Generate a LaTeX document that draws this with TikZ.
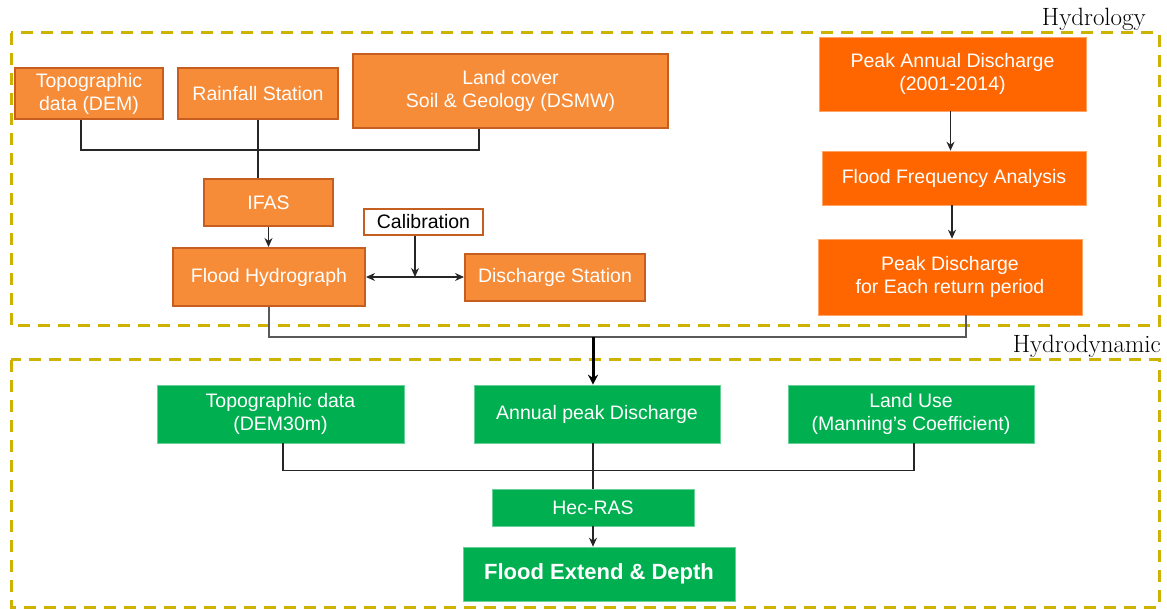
\documentclass[tikz,border=0pt]{standalone}
\usepackage{fontspec}
\newfontfamily\arialf{Liberation Sans}
\usetikzlibrary{arrows.meta}
\definecolor{lorange}{HTML}{F68B38}
\definecolor{lborder}{HTML}{C55E1E}
\definecolor{dorange}{HTML}{FF6600}
\definecolor{gfill}{HTML}{00B050}
\definecolor{dashc}{HTML}{CDB300}
\definecolor{conn}{HTML}{262626}
\definecolor{coll}{HTML}{595959}
\tikzset{
  boxbase/.style={rectangle, inner sep=0pt, align=center, text=white,
    font=\arialf\fontsize{19.5}{23}\selectfont},
  lbox/.style={boxbase, fill=lorange, draw=lborder, line width=2pt},
  calbox/.style={boxbase, fill=white, draw=lborder, line width=2pt, text=black},
  dbox/.style={boxbase, fill=dorange, draw=dorange!60, line width=0.6pt},
  gbox/.style={boxbase, fill=gfill, draw=gfill!60, line width=0.6pt},
  region/.style={draw=dashc, line width=3pt, dash pattern=on 12pt off 8pt},
  regionlabel/.style={anchor=base east, inner sep=0pt, font=\fontsize{25}{28}\selectfont},
  link/.style={draw=conn, line width=1.3pt},
  arr/.style={link, -{Stealth[length=9pt,width=8pt]}},
  darr/.style={link, {Stealth[length=9pt,width=8pt]}-{Stealth[length=9pt,width=8pt]}},
  collector/.style={draw=coll, line width=2pt},
  thickarr/.style={draw=black, line width=3pt, -{Stealth[length=10pt,width=10pt]}}
}
\begin{document}
\begin{tikzpicture}[x=1pt,y=-1pt]
\useasboundingbox (0,0) rectangle (1167,609);
% regions
\draw[region] (11,33) rectangle (1159,326);
\draw[region] (11,360) rectangle (1159,607);
\node[regionlabel] (lhyd) at (1146,26) {Hydrology};
\node[regionlabel] (lhdyn) at (1161,353) {Hydrodynamic};

% hydrology, left part
\node[lbox, minimum width=148pt, minimum height=51pt] (topo) at (89,93.5) {Topographic\\data (DEM)};
\node[lbox, minimum width=160pt, minimum height=51pt] (rain) at (258,93.5) {Rainfall Station};
\node[lbox, minimum width=315pt, minimum height=74pt] (land) at (510.5,91) {Land cover\\Soil \& Geology (DSMW)};
\node[lbox, minimum width=129pt, minimum height=47pt] (ifas) at (268.5,202.5) {IFAS};
\node[calbox, minimum width=119pt, minimum height=26pt] (calib) at (423.5,222) {Calibration};
\node[lbox, minimum width=192pt, minimum height=58pt] (fh) at (269,277) {Flood Hydrograph};
\node[lbox, minimum width=180pt, minimum height=47pt] (ds) at (555,277.5) {Discharge Station};

% hydrology, right part
\node[dbox, minimum width=267pt, minimum height=74pt] (pad) at (952.5,74) {Peak Annual Discharge\\(2001-2014)};
\node[dbox, minimum width=264pt, minimum height=54pt] (ffa) at (954,178) {Flood Frequency Analysis};
\node[dbox, minimum width=264pt, minimum height=76pt] (pd) at (950,277) {Peak Discharge\\for Each return period};

% hydrodynamic
\node[gbox, minimum width=247pt, minimum height=58pt] (gtopo) at (280.5,414) {Topographic data\\(DEM30m)};
\node[gbox, minimum width=246pt, minimum height=58pt] (gann) at (597,414) {Annual peak Discharge};
\node[gbox, minimum width=246pt, minimum height=58pt] (gland) at (911,414) {Land Use\\(Manning’s Coefficient)};
\node[gbox, minimum width=202pt, minimum height=37pt] (hec) at (593,507.5) {Hec-RAS};
\node[gbox, minimum width=272pt, minimum height=54pt, font=\arialf\bfseries\fontsize{22}{26}\selectfont] (fed) at (599,574) {Flood Extend \& Depth};

% connectors, hydrology left
\draw[link] ([xshift=-8pt]topo.south) -- ++(0,30) -| ([xshift=-31.5pt]land.south);
\draw[link] (rain.south) -- (rain.south |- ifas.north);
\draw[arr] (ifas.south) -- (ifas.south |- fh.north);
\draw[arr] ([xshift=-8.5pt]calib.south) -- ([xshift=-8.5pt]calib.south |- fh.east);
\draw[darr] (fh.east) -- (ds.west |- fh.east);

% connectors, hydrology right
\draw[arr] ([xshift=-2pt]pad.south) -- ([xshift=-2pt]pad.south |- ffa.north);
\draw[arr] ([xshift=-2pt]ffa.south) -- ([xshift=-2pt]ffa.south |- pd.north);

% collector between regions
\coordinate (jc) at (593,337);
\draw[collector] (fh.south) |- (jc) -| ([xshift=16pt]pd.south);
\draw[thickarr] (jc) -- (jc |- gann.north);

% connectors, hydrodynamic
\draw[link] ([xshift=2.5pt]gtopo.south) -- ++(0,27) -| ([xshift=3pt]gland.south);
\draw[link] (hec.north |- gann.south) -- (hec.north);
\draw[arr] (hec.south) -- (hec.south |- fed.north);
\end{tikzpicture}
\end{document}
